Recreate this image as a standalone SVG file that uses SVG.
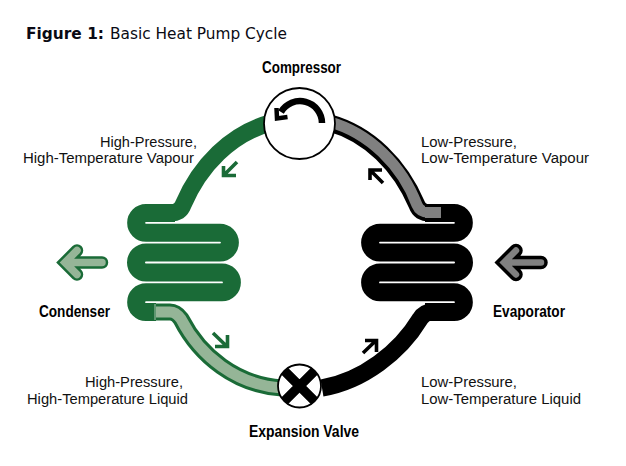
<svg xmlns="http://www.w3.org/2000/svg" width="626" height="466" viewBox="0 0 626 466">
<style>
.p{fill:none;stroke-linejoin:round;stroke-linecap:butt}
.g{stroke:#1a6b37}.k{stroke:#000}
.l{stroke:#95b597}.y{stroke:#808080}
.coil{stroke-width:18}.tube{stroke-width:17}
.sm{fill:none;stroke-width:3.6;stroke-linejoin:miter;stroke-linecap:butt}
.big{fill:none;stroke-linecap:round;stroke-linejoin:miter;stroke-miterlimit:4}
text{font-family:"Liberation Sans",Arial,sans-serif;font-size:15.5px;fill:#111}
.b{font-weight:bold;font-size:16px;fill:#000}
.t{font-family:"DejaVu Sans",Verdana,sans-serif;font-size:15px;fill:#0a0a14}
</style>
<defs><clipPath id="valve-clip"><circle cx="299.500" cy="386" r="21.500"/></clipPath></defs>
<text class="t" x="26" y="39" font-weight="bold" textLength="78" lengthAdjust="spacingAndGlyphs">Figure 1:</text>
<text class="t" x="110" y="39" textLength="177" lengthAdjust="spacingAndGlyphs">Basic Heat Pump Cycle</text>
<g id="connectors">
<path class="p g tube" d="M270 123C231 134 200 165 183 205Q180 213 170 213"/>
<path class="p k tube" d="M330 123C369 134 400 165 417 205Q420 213 430 213"/>
<path class="p y" stroke-width="11" d="M330 122C369 133 402 165 417 205Q420 212.500 430 212.500H441"/>
<path class="p k tube" d="M322 388C363 381 400 352 420 319Q424 312 432 312"/>
<path class="p g" stroke-width="17" d="M155 312H170Q176 312 181 319C200 356 236 385 282 388"/>
<path class="p l" stroke-width="11" d="M156 312H170Q176 312 181 319C200 356 236 385 282 388"/>
<path class="sm g" d="M237 162L223.500 175.500M223.500 166V175.500H236"/>
<path class="sm k" d="M383 183L370 170M370 180V170H382"/>
<path class="sm g" d="M213 333L227.500 347M227.500 335V346.500H215"/>
<path class="sm k" d="M363 353L376.500 340M365 340.500H376.500V352"/>
</g>
<g id="condenser">
<path class="p g coil" d="M175 213H146A9.850 9.850 0 0 0 146 232.700H220A9.900 9.900 0 0 1 220 252.500H146A10 10 0 0 0 146 272.500H222A9.900 9.900 0 0 1 222 292.300H146A9.850 9.850 0 0 0 146 312H156"/>
<line x1="155" y1="304" x2="155" y2="320" stroke="#c9dcc9" stroke-width="0.800"/>
</g>
<g id="evaporator">
<path class="p k coil" d="M425 213H454A9.850 9.850 0 0 1 454 232.700H380A9.900 9.900 0 0 0 380 252.500H454A10 10 0 0 1 454 272.500H380A9.900 9.900 0 0 0 380 292.300H454A9.850 9.850 0 0 1 454 312H425"/>
<path class="p y" stroke-width="11" d="M425 212.500H441"/>
</g>
<g id="compressor">
<circle cx="299.500" cy="123.500" r="35.500" fill="#fff" stroke="#000" stroke-width="1.800"/>
<path fill="none" stroke="#000" stroke-width="6.500" d="M322 123A22 22 0 0 0 281 112"/>
<path fill="none" stroke="#000" stroke-width="4.500" d="M276.500 108L277 118.500L287.500 117"/>
</g>
<g id="expansion-valve">
<circle cx="299.500" cy="386" r="21.500" fill="#fff"/>
<path clip-path="url(#valve-clip)" stroke="#000" stroke-width="9.500" d="M280 366.500L319 405.500M319 366.500L280 405.500"/>
<circle cx="299.500" cy="386" r="21.500" fill="none" stroke="#000" stroke-width="1.800"/>
</g>
<g id="heat-out">
<path class="big g" stroke-width="12.500" d="M102 262.500H66M77 250.500L65 262.500L77 274.500"/>
<path class="big l" stroke-width="7.500" d="M102 262.500H66M77 250.500L65 262.500L77 274.500"/>
</g>
<g id="heat-in">
<path class="big k" stroke-width="13.500" d="M541 262.500H505M516 250.500L504 262.500L516 274.500"/>
<path class="big y" stroke-width="6.500" d="M541 262.500H505M516 250.500L504 262.500L516 274.500"/>
</g>
<g id="labels">
<text class="b" x="262" y="72.500" textLength="79" lengthAdjust="spacingAndGlyphs">Compressor</text>
<text class="b" x="39" y="316.500" textLength="71" lengthAdjust="spacingAndGlyphs">Condenser</text>
<text class="b" x="493" y="316.500" textLength="72" lengthAdjust="spacingAndGlyphs">Evaporator</text>
<text class="b" x="249" y="436.500" textLength="110" lengthAdjust="spacingAndGlyphs">Expansion Valve</text>
<text x="100" y="146.500" textLength="97" lengthAdjust="spacingAndGlyphs">High-Pressure,</text>
<text x="23" y="163" textLength="171" lengthAdjust="spacingAndGlyphs">High-Temperature Vapour</text>
<text x="421" y="146.500" textLength="96" lengthAdjust="spacingAndGlyphs">Low-Pressure,</text>
<text x="421" y="163" textLength="168" lengthAdjust="spacingAndGlyphs">Low-Temperature Vapour</text>
<text x="85" y="387" textLength="98" lengthAdjust="spacingAndGlyphs">High-Pressure,</text>
<text x="27" y="403.500" textLength="161" lengthAdjust="spacingAndGlyphs">High-Temperature Liquid</text>
<text x="421" y="387" textLength="96" lengthAdjust="spacingAndGlyphs">Low-Pressure,</text>
<text x="421" y="403.500" textLength="160" lengthAdjust="spacingAndGlyphs">Low-Temperature Liquid</text>
</g>
</svg>
